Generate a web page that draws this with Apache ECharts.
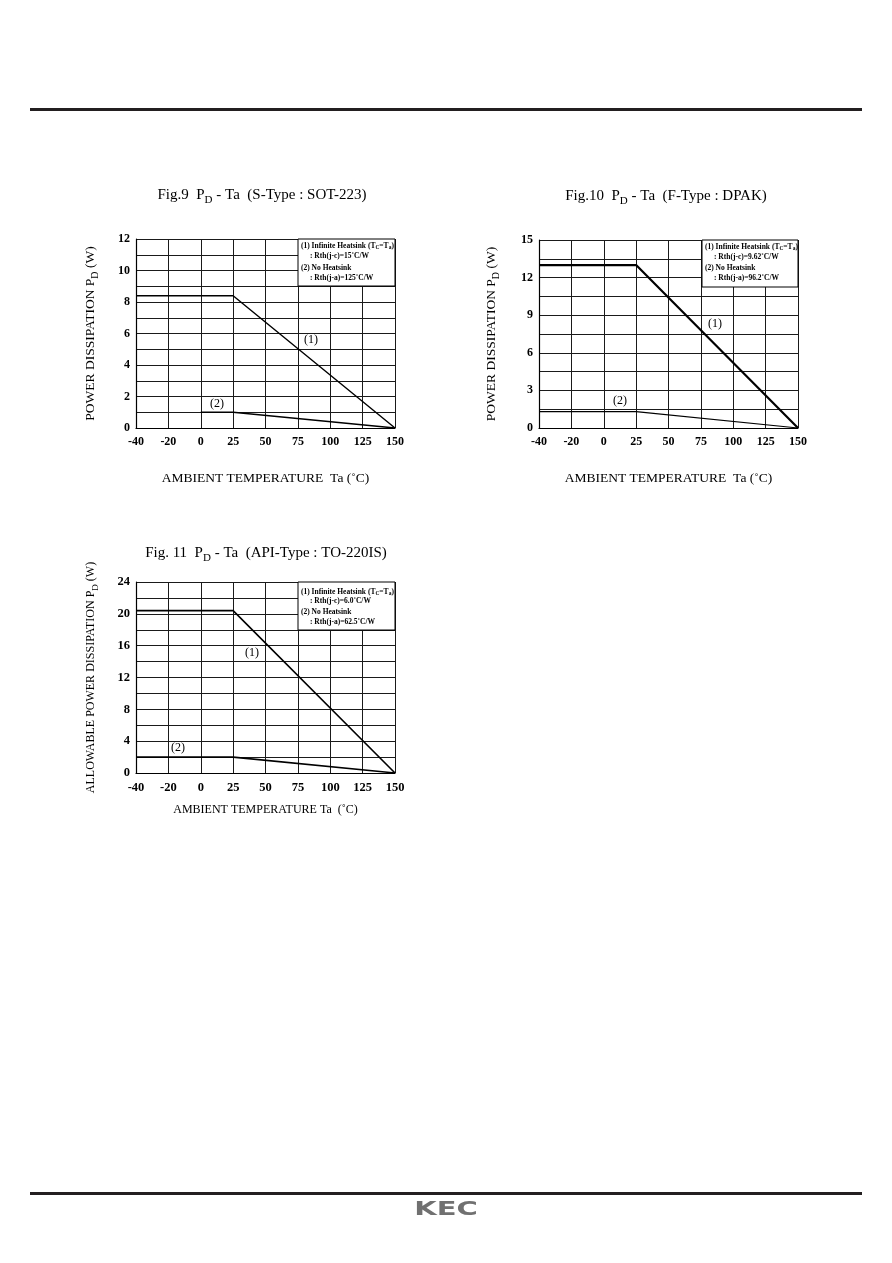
<!DOCTYPE html>
<html>
<head>
<meta charset="utf-8">
<script src="https://cdn.jsdelivr.net/npm/echarts@6/dist/echarts.min.js"></script>
<style>
  html, body { margin: 0; padding: 0; background: #fff; }
  #main { width: 892px; height: 1263px; }
</style>
</head>
<body>
<div id="main"></div>
<script>
// x categories (same for all three figures)
var xCats = ['-40', '-20', '0', '25', '50', '75', '100', '125', '150'];

// Fig.9 S-Type SOT-223
var fig9Inf = [['-40', 8.4], ['25', 8.4], ['150', 0]];
var fig9NoHs = [['0', 1.0], ['25', 1.0], ['150', 0]];
var fig9Ticks = [0, 2, 4, 6, 8, 10, 12];

// Fig.10 F-Type DPAK
var fig10Inf = [['-40', 13.0], ['25', 13.0], ['150', 0]];
var fig10NoHs = [['-40', 1.3], ['25', 1.3], ['150', 0]];
var fig10Ticks = [0, 3, 6, 9, 12, 15];

// Fig.11 API-Type TO-220IS
var fig11Inf = [['-40', 20.4], ['25', 20.4], ['150', 0]];
var fig11NoHs = [['-40', 2.0], ['25', 2.0], ['150', 0]];
var fig11Ticks = [0, 4, 8, 12, 16, 20, 24];

var serif = '"Liberation Serif", "DejaVu Serif", serif';

var chart = echarts.init(document.getElementById('main'));

function xAxisOf(gi, gap, lblSize, nameSize, name) {
    return {
        type: 'category',
        gridIndex: gi,
        data: xCats,
        boundaryGap: false,
        axisTick: { show: false },
        axisLine: { lineStyle: { color: '#000', width: 1.2 } },
        splitLine: { show: true, lineStyle: { color: '#1a1a1a', width: 1 } },
        axisLabel: {
            interval: 0,
            color: '#000',
            fontFamily: serif,
            fontWeight: 'bold',
            fontSize: lblSize,
            margin: 8
        },
        name: name,
        nameLocation: 'middle',
        nameGap: gap,
        nameTextStyle: { color: '#000', fontFamily: serif, fontSize: nameSize }
    };
}

function yAxisOf(gi, max, step, ticks, name, gap, lblSize, nameSize) {
    return {
        type: 'value',
        gridIndex: gi,
        min: 0,
        max: max,
        interval: step,
        axisTick: { show: false },
        axisLine: { show: true, lineStyle: { color: '#000', width: 1.2 } },
        splitLine: { show: true, lineStyle: { color: '#1a1a1a', width: 1 } },
        axisLabel: {
            color: '#000',
            fontFamily: serif,
            fontWeight: 'bold',
            fontSize: lblSize,
            margin: 6,
            formatter: function (v) {
                return ticks.indexOf(v) >= 0 ? String(v) : '';
            }
        },
        name: name,
        nameLocation: 'middle',
        nameGap: gap,
        nameRotate: 90,
        nameTextStyle: {
            color: '#000',
            fontFamily: serif,
            fontSize: nameSize,
            rich: {
                sub: { fontFamily: serif, fontSize: Math.round(nameSize * 0.75), color: '#000', verticalAlign: 'bottom', lineHeight: 10 },
                n: { fontFamily: serif, fontSize: nameSize, color: '#000', lineHeight: nameSize + 6 }
            }
        }
    };
}

function lineSeries(xi, data, w) {
    return {
        type: 'line',
        xAxisIndex: xi,
        yAxisIndex: xi,
        data: data,
        symbol: 'none',
        silent: true,
        lineStyle: { color: '#000', width: w },
        z: 5
    };
}

function txt(x, y, text, size, opts) {
    opts = opts || {};
    var w = opts.weight || 'normal';
    var sub = opts.sub || Math.round(size * 0.72);
    var lh = opts.lh || size + 6;
    return {
        type: 'text',
        x: x,
        y: y,
        z: 120,
        style: {
            text: text,
            fontFamily: serif,
            fontSize: size,
            fontWeight: w,
            fill: '#000',
            align: opts.align || 'left',
            verticalAlign: 'middle',
            rich: {
                n: { fontFamily: serif, fontSize: size, fontWeight: w, lineHeight: lh },
                s: { fontFamily: serif, fontSize: sub, fontWeight: w, verticalAlign: 'bottom', lineHeight: sub + 1 }
            }
        }
    };
}

function legendBox(x, y, w, h, l1, l2, l3, l4) {
    var o = { weight: 'bold', sub: 5.5, lh: 10 };
    return [
        { type: 'rect', z: 110, shape: { x: x, y: y, width: w, height: h },
          style: { fill: '#fff', stroke: '#000', lineWidth: 1 } },
        txt(x + 3, l1[0], l1[1], 7.5, o),
        txt(x + 12, l2[0], l2[1], 7.5, o),
        txt(x + 3, l3[0], l3[1], 7.5, o),
        txt(x + 12, l4[0], l4[1], 7.5, o)
    ];
}

var graphics = [
    { type: 'rect', z: 100, shape: { x: 30, y: 108, width: 832, height: 3 }, style: { fill: '#231f20' } },
    { type: 'rect', z: 100, shape: { x: 30, y: 1192, width: 832, height: 3 }, style: { fill: '#231f20' } },
    { type: 'text', z: 100, x: 446, y: 1210, scaleX: 1.45,
      style: { text: 'KEC', fontFamily: '"DejaVu Sans", sans-serif', fontWeight: 'bold', fontSize: 20,
               fill: '#707070', align: 'center', verticalAlign: 'middle' } },

    txt(262, 195, '{n|Fig.9  P}{s|D}{n| - Ta  (S-Type : SOT-223)}', 15, { align: 'center' }),
    txt(666, 196, '{n|Fig.10  P}{s|D}{n| - Ta  (F-Type : DPAK)}', 15, { align: 'center' }),
    txt(266, 553, '{n|Fig. 11  P}{s|D}{n| - Ta  (API-Type : TO-220IS)}', 15, { align: 'center' }),

    txt(304, 340, '(1)', 12),
    txt(210, 404, '(2)', 12),
    txt(708, 324, '(1)', 12),
    txt(613, 401, '(2)', 12),
    txt(245, 653, '(1)', 12),
    txt(171, 748, '(2)', 12)
];

graphics = graphics.concat(
    legendBox(298, 239, 97, 47,
        [246, '{n|(1) Infinite Heatsink (T}{s|C}{n|=T}{s|a}{n|)}'],
        [256, ': Rth(j-c)=15\u02daC/W'],
        [268, '(2) No Heatsink'],
        [278, ': Rth(j-a)=125\u02daC/W']),
    legendBox(702, 240, 96, 47,
        [247, '{n|(1) Infinite Heatsink (T}{s|C}{n|=T}{s|a}{n|)}'],
        [257, ': Rth(j-c)=9.62\u02daC/W'],
        [268, '(2) No Heatsink'],
        [278, ': Rth(j-a)=96.2\u02daC/W']),
    legendBox(298, 582, 97, 48,
        [592, '{n|(1) Infinite Heatsink (T}{s|C}{n|=T}{s|a}{n|)}'],
        [601, ': Rth(j-c)=6.0\u02daC/W'],
        [612, '(2) No Heatsink'],
        [622, ': Rth(j-a)=62.5\u02daC/W'])
);

var option = {
    backgroundColor: '#fff',
    animation: false,
    grid: [
        { left: 136, top: 239, width: 259, height: 189 },
        { left: 539, top: 240, width: 259, height: 188 },
        { left: 136, top: 582, width: 259, height: 191 }
    ],
    xAxis: [
        xAxisOf(0, 43, 12, 13.5, 'AMBIENT TEMPERATURE  Ta (\u02daC)'),
        xAxisOf(1, 43, 12, 13.5, 'AMBIENT TEMPERATURE  Ta (\u02daC)'),
        xAxisOf(2, 31, 12.5, 12, 'AMBIENT TEMPERATURE Ta  (\u02daC)')
    ],
    yAxis: [
        yAxisOf(0, 12, 1, fig9Ticks, '{n|POWER DISSIPATION P}{sub|D}{n| (W)}', 36, 12, 13.5),
        yAxisOf(1, 15, 1.5, fig10Ticks, '{n|POWER DISSIPATION P}{sub|D}{n| (W)}', 38, 12, 13.5),
        yAxisOf(2, 24, 2, fig11Ticks, '{n|ALLOWABLE POWER DISSIPATION P}{sub|D}{n| (W)}', 36, 12.5, 12)
    ],
    series: [
        lineSeries(0, fig9Inf, 1.4),
        lineSeries(0, fig9NoHs, 1.6),
        lineSeries(1, fig10Inf, 2.2),
        lineSeries(1, fig10NoHs, 1.2),
        lineSeries(2, fig11Inf, 1.6),
        lineSeries(2, fig11NoHs, 1.6)
    ],
    graphic: graphics
};

chart.setOption(option);
</script>
</body>
</html>
